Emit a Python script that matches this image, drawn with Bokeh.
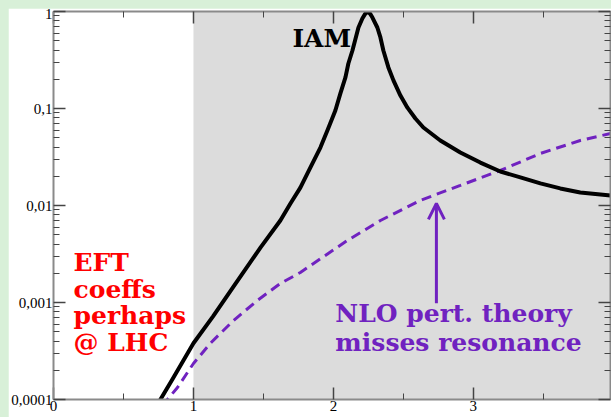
from bokeh.plotting import figure
from bokeh.models import (FixedTicker, LinearAxis, LogAxis, BoxAnnotation, Label,
                          Arrow, OpenHead, Range1d)
from bokeh.embed import file_html
from bokeh.resources import INLINE

# ---- data ----
iam_x = [0.72, 0.764, 0.85, 1.0, 1.14, 1.286, 1.48, 1.621, 1.693, 1.764, 1.836, 1.907,
         1.957, 2.014, 2.050, 2.086, 2.107, 2.136, 2.179, 2.207, 2.228, 2.245, 2.262,
         2.279, 2.314, 2.336, 2.357, 2.393, 2.429, 2.479, 2.529, 2.586, 2.643, 2.764,
         2.907, 3.05, 3.193, 3.336, 3.479, 3.621, 3.764, 3.98]
iam_y = [7.8e-5, 1.0e-4, 1.62e-4, 3.8e-4, 7.2e-4, 1.46e-3, 3.7e-3, 7.0e-3, 0.0105, 0.0153,
         0.0247, 0.0396, 0.0593, 0.0953, 0.143, 0.209, 0.291, 0.396, 0.684, 0.847, 0.95,
         1.0, 0.95, 0.867, 0.684, 0.54, 0.396, 0.265, 0.195, 0.136, 0.102, 0.0789, 0.0637,
         0.0468, 0.0352, 0.0277, 0.0224, 0.0195, 0.0169, 0.0150, 0.0136, 0.0127]

nlo_x = [0.78, 0.814, 0.886, 1.0, 1.121, 1.286, 1.457, 1.621, 1.764, 2.1, 2.336, 2.621,
         2.907, 3.193, 3.479, 3.764, 3.98]
nlo_y = [8.5e-5, 1.0e-4, 1.33e-4, 2.35e-4, 3.8e-4, 6.52e-4, 1.05e-3, 1.57e-3, 2.04e-3,
         4.36e-3, 7.0e-3, 1.13e-2, 1.61e-2, 2.30e-2, 3.44e-2, 4.68e-2, 5.52e-2]

x_ticks = [0, 1, 2, 3, 4]
x_minor = [0.5, 1.5, 2.5, 3.5]
y_ticks = [1e-4, 1e-3, 1e-2, 1e-1, 1.0]
y_labels = ["0,0001", "0,001", "0,01", "0,1", "1"]
y_minor = [k * d for d in [1e-4, 1e-3, 1e-2, 1e-1] for k in range(2, 10)]

shade_start = 1.0
eft_lines = ["EFT", "coeffs", "perhaps", "@ LHC"]
nlo_lines = ["NLO pert. theory", "misses resonance"]
iam_label = "IAM"

PURPLE = "#7022c0"
RED = "#ff0000"
LIFT = 10 ** (10 / 97)  # baseline correction for label placement

p = figure(width=603, height=409,
           x_range=Range1d(0, 3.98), y_range=Range1d(1e-4, 1.0),
           y_axis_type="log", output_backend="svg", toolbar_location=None,
           min_border_left=45, min_border_right=1, min_border_top=3, min_border_bottom=18)
p.grid.visible = False
p.outline_line_color = None
p.background_fill_color = "white"
p.border_fill_color = "white"

p.add_layout(BoxAnnotation(left=shade_start, fill_color="#dcdcdc", fill_alpha=1.0,
                           line_color=None, level="underlay"))

p.add_layout(LinearAxis(), "above")
p.add_layout(LogAxis(), "right")

xt = FixedTicker(ticks=x_ticks, minor_ticks=x_minor)
yt = FixedTicker(ticks=y_ticks, minor_ticks=y_minor)
for ax in p.xaxis:
    ax.ticker = xt
for ax in p.yaxis:
    ax.ticker = yt
    ax.major_label_overrides = {t: l for t, l in zip(y_ticks, y_labels)}

for ax in p.xaxis + p.yaxis:
    ax.axis_line_color = "#8a8a8a"
    ax.axis_line_width = 2
    ax.major_tick_in = 12
    ax.major_tick_out = 0
    ax.minor_tick_in = 6
    ax.minor_tick_out = 0
    ax.major_tick_line_color = "#444444"
    ax.major_tick_line_width = 1.5
    ax.minor_tick_line_color = "#444444"
    ax.minor_tick_line_width = 1
    ax.major_label_text_font = "Liberation Serif"
    ax.major_label_text_font_size = "15px"
    ax.major_label_text_color = "black"
    ax.major_label_standoff = 3

for ax in p.left:
    ax.major_label_standoff = 1
for ax in p.below:
    ax.major_label_standoff = 1

for ax in p.above + p.right:
    ax.major_label_text_font_size = "0px"
    ax.major_label_standoff = 0

p.line(nlo_x, nlo_y, line_color=PURPLE, line_width=3, line_dash="10 6")
p.line(iam_x, iam_y, line_color="black", line_width=4, line_join="round")

# IAM label
p.add_layout(Label(x=1.707, y=0.416 * LIFT, text=iam_label, text_font="DejaVu Serif",
                   text_font_style="bold", text_font_size="25px", text_color="black",
                   text_baseline="alphabetic"))

# EFT text lines
eft_x, eft_y0, step = 0.143, 2.04e-3 * LIFT, 10 ** (-26.7 / 97)
for i, t in enumerate(eft_lines):
    p.add_layout(Label(x=eft_x, y=eft_y0 * step ** i, text=t, text_font="DejaVu Serif",
                       text_font_style="bold", text_font_size="25px", text_color=RED,
                       text_baseline="alphabetic"))

nlo_tx, nlo_y0, step2 = 2.014, 6.08e-4 * LIFT, 10 ** (-29 / 97)
for i, t in enumerate(nlo_lines):
    p.add_layout(Label(x=nlo_tx, y=nlo_y0 * step2 ** i, text=t, text_font="DejaVu Serif",
                       text_font_style="bold", text_font_size="25px", text_color=PURPLE,
                       text_baseline="alphabetic"))

p.add_layout(Arrow(end=OpenHead(size=16, line_color=PURPLE, line_width=3),
                   x_start=2.736, y_start=9.8e-4, x_end=2.736, y_end=0.0105,
                   line_color=PURPLE, line_width=3))

html = file_html(p, INLINE)
html = html.replace(
    "</head>",
    "<style>html,body{background:#d8f0d8;overflow:hidden;}"
    "body{margin:8px 0 0 8px;}</style></head>", 1)
open("out.html", "w").write(html)
